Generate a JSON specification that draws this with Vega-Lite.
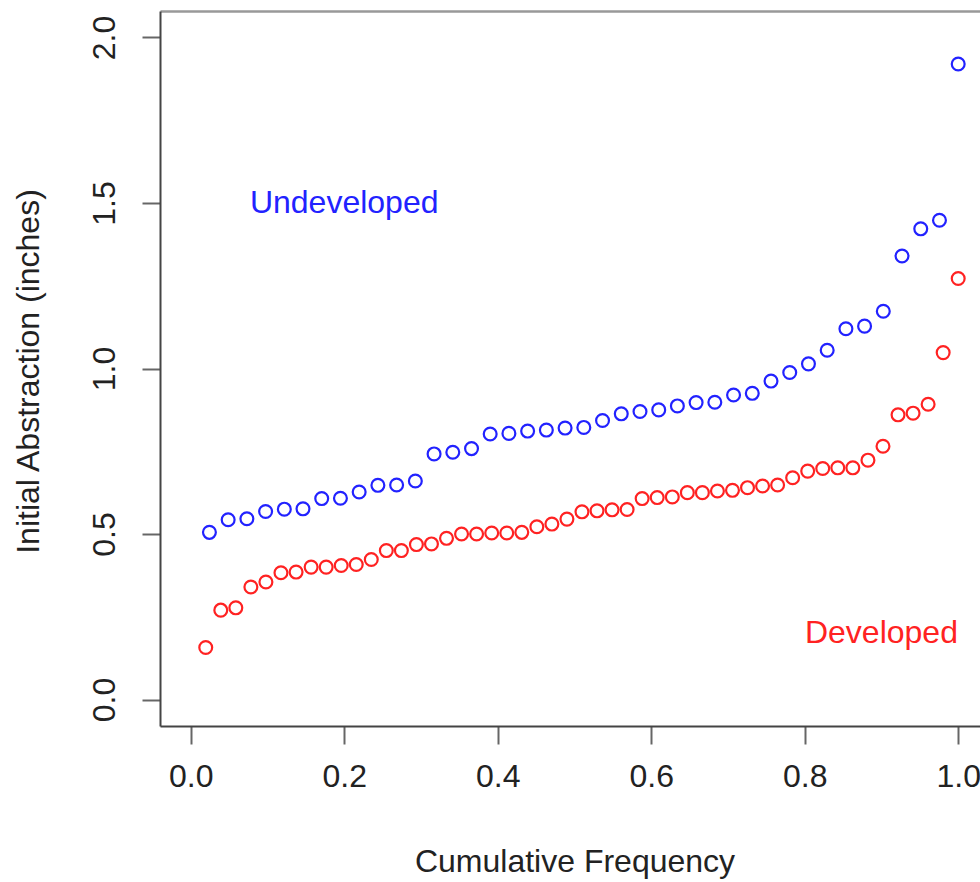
{
  "$schema": "https://vega.github.io/schema/vega-lite/v6.json",
  "width": 820,
  "height": 715,
  "autosize": {"type": "none"},
  "padding": {"left": 160, "top": 11, "right": 0, "bottom": 156},
  "background": "white",
  "config": {
    "view": {"stroke": null},
    "font": "Liberation Sans",
    "axis": {"grid": false, "titleFontWeight": "normal", "labelFont": "Liberation Sans", "titleFont": "Liberation Sans"}
  },
  "datasets": {
    "points": [
      {"landuse": "Undeveloped", "freq": 0.0244, "ia": 0.505},
      {"landuse": "Undeveloped", "freq": 0.0488, "ia": 0.543},
      {"landuse": "Undeveloped", "freq": 0.0732, "ia": 0.546},
      {"landuse": "Undeveloped", "freq": 0.0976, "ia": 0.568},
      {"landuse": "Undeveloped", "freq": 0.1220, "ia": 0.575},
      {"landuse": "Undeveloped", "freq": 0.1463, "ia": 0.576},
      {"landuse": "Undeveloped", "freq": 0.1707, "ia": 0.607},
      {"landuse": "Undeveloped", "freq": 0.1951, "ia": 0.608},
      {"landuse": "Undeveloped", "freq": 0.2195, "ia": 0.627},
      {"landuse": "Undeveloped", "freq": 0.2439, "ia": 0.647},
      {"landuse": "Undeveloped", "freq": 0.2683, "ia": 0.648},
      {"landuse": "Undeveloped", "freq": 0.2927, "ia": 0.660},
      {"landuse": "Undeveloped", "freq": 0.3171, "ia": 0.742},
      {"landuse": "Undeveloped", "freq": 0.3415, "ia": 0.747},
      {"landuse": "Undeveloped", "freq": 0.3659, "ia": 0.758},
      {"landuse": "Undeveloped", "freq": 0.3902, "ia": 0.802},
      {"landuse": "Undeveloped", "freq": 0.4146, "ia": 0.804},
      {"landuse": "Undeveloped", "freq": 0.4390, "ia": 0.811},
      {"landuse": "Undeveloped", "freq": 0.4634, "ia": 0.814},
      {"landuse": "Undeveloped", "freq": 0.4878, "ia": 0.820},
      {"landuse": "Undeveloped", "freq": 0.5122, "ia": 0.822},
      {"landuse": "Undeveloped", "freq": 0.5366, "ia": 0.843},
      {"landuse": "Undeveloped", "freq": 0.5610, "ia": 0.863},
      {"landuse": "Undeveloped", "freq": 0.5854, "ia": 0.870},
      {"landuse": "Undeveloped", "freq": 0.6098, "ia": 0.875},
      {"landuse": "Undeveloped", "freq": 0.6341, "ia": 0.887},
      {"landuse": "Undeveloped", "freq": 0.6585, "ia": 0.897},
      {"landuse": "Undeveloped", "freq": 0.6829, "ia": 0.898},
      {"landuse": "Undeveloped", "freq": 0.7073, "ia": 0.920},
      {"landuse": "Undeveloped", "freq": 0.7317, "ia": 0.925},
      {"landuse": "Undeveloped", "freq": 0.7561, "ia": 0.962},
      {"landuse": "Undeveloped", "freq": 0.7805, "ia": 0.988},
      {"landuse": "Undeveloped", "freq": 0.8049, "ia": 1.014},
      {"landuse": "Undeveloped", "freq": 0.8293, "ia": 1.055},
      {"landuse": "Undeveloped", "freq": 0.8537, "ia": 1.120},
      {"landuse": "Undeveloped", "freq": 0.8780, "ia": 1.128},
      {"landuse": "Undeveloped", "freq": 0.9024, "ia": 1.173},
      {"landuse": "Undeveloped", "freq": 0.9268, "ia": 1.340},
      {"landuse": "Undeveloped", "freq": 0.9512, "ia": 1.422},
      {"landuse": "Undeveloped", "freq": 0.9756, "ia": 1.448},
      {"landuse": "Undeveloped", "freq": 1.0, "ia": 1.920},
      {"landuse": "Developed", "freq": 0.0196, "ia": 0.157},
      {"landuse": "Developed", "freq": 0.0392, "ia": 0.270},
      {"landuse": "Developed", "freq": 0.0588, "ia": 0.277},
      {"landuse": "Developed", "freq": 0.0784, "ia": 0.340},
      {"landuse": "Developed", "freq": 0.0980, "ia": 0.355},
      {"landuse": "Developed", "freq": 0.1176, "ia": 0.383},
      {"landuse": "Developed", "freq": 0.1373, "ia": 0.385},
      {"landuse": "Developed", "freq": 0.1569, "ia": 0.400},
      {"landuse": "Developed", "freq": 0.1765, "ia": 0.400},
      {"landuse": "Developed", "freq": 0.1961, "ia": 0.405},
      {"landuse": "Developed", "freq": 0.2157, "ia": 0.408},
      {"landuse": "Developed", "freq": 0.2353, "ia": 0.423},
      {"landuse": "Developed", "freq": 0.2549, "ia": 0.450},
      {"landuse": "Developed", "freq": 0.2745, "ia": 0.450},
      {"landuse": "Developed", "freq": 0.2941, "ia": 0.468},
      {"landuse": "Developed", "freq": 0.3137, "ia": 0.470},
      {"landuse": "Developed", "freq": 0.3333, "ia": 0.487},
      {"landuse": "Developed", "freq": 0.3529, "ia": 0.500},
      {"landuse": "Developed", "freq": 0.3725, "ia": 0.500},
      {"landuse": "Developed", "freq": 0.3922, "ia": 0.503},
      {"landuse": "Developed", "freq": 0.4118, "ia": 0.503},
      {"landuse": "Developed", "freq": 0.4314, "ia": 0.505},
      {"landuse": "Developed", "freq": 0.4510, "ia": 0.522},
      {"landuse": "Developed", "freq": 0.4706, "ia": 0.530},
      {"landuse": "Developed", "freq": 0.4902, "ia": 0.545},
      {"landuse": "Developed", "freq": 0.5098, "ia": 0.567},
      {"landuse": "Developed", "freq": 0.5294, "ia": 0.570},
      {"landuse": "Developed", "freq": 0.5490, "ia": 0.573},
      {"landuse": "Developed", "freq": 0.5686, "ia": 0.574},
      {"landuse": "Developed", "freq": 0.5882, "ia": 0.607},
      {"landuse": "Developed", "freq": 0.6078, "ia": 0.610},
      {"landuse": "Developed", "freq": 0.6275, "ia": 0.612},
      {"landuse": "Developed", "freq": 0.6471, "ia": 0.625},
      {"landuse": "Developed", "freq": 0.6667, "ia": 0.625},
      {"landuse": "Developed", "freq": 0.6863, "ia": 0.630},
      {"landuse": "Developed", "freq": 0.7059, "ia": 0.632},
      {"landuse": "Developed", "freq": 0.7255, "ia": 0.640},
      {"landuse": "Developed", "freq": 0.7451, "ia": 0.645},
      {"landuse": "Developed", "freq": 0.7647, "ia": 0.648},
      {"landuse": "Developed", "freq": 0.7843, "ia": 0.670},
      {"landuse": "Developed", "freq": 0.8039, "ia": 0.690},
      {"landuse": "Developed", "freq": 0.8235, "ia": 0.698},
      {"landuse": "Developed", "freq": 0.8431, "ia": 0.700},
      {"landuse": "Developed", "freq": 0.8627, "ia": 0.700},
      {"landuse": "Developed", "freq": 0.8824, "ia": 0.723},
      {"landuse": "Developed", "freq": 0.9020, "ia": 0.765},
      {"landuse": "Developed", "freq": 0.9216, "ia": 0.860},
      {"landuse": "Developed", "freq": 0.9412, "ia": 0.865},
      {"landuse": "Developed", "freq": 0.9608, "ia": 0.892},
      {"landuse": "Developed", "freq": 0.9804, "ia": 1.048},
      {"landuse": "Developed", "freq": 1.0, "ia": 1.272}
    ],
    "labels": [
      {"landuse": "Undeveloped", "freq": 0.2, "ia": 1.5},
      {"landuse": "Developed", "freq": 0.9, "ia": 0.2}
    ]
  },
  "layer": [
    {
      "data": {"name": "points"},
      "mark": {"type": "point", "shape": "circle", "filled": false, "size": 165, "strokeWidth": 2.2, "opacity": 1},
      "encoding": {
        "x": {
          "field": "freq", "type": "quantitative",
          "scale": {"domain": [-0.04, 1.0284], "nice": false, "zero": false},
          "axis": {
            "orient": "bottom",
            "values": [0, 0.2, 0.4, 0.6, 0.8, 1.0],
            "format": ".1f",
            "domainColor": "#444", "domainWidth": 2,
            "tickColor": "#666", "tickWidth": 2, "tickSize": 18,
            "labelFontSize": 32, "labelColor": "#222", "labelPadding": 42,
            "labelBaseline": "alphabetic", "labelFlush": false, "labelOverlap": false,
            "title": "Cumulative Frequency",
            "titleFontSize": 32, "titleColor": "#222",
            "titleX": 414.5, "titleY": 145, "titleAlign": "center", "titleBaseline": "alphabetic"
          }
        },
        "y": {
          "field": "ia", "type": "quantitative",
          "scale": {"domain": [-0.08, 2.08], "nice": false, "zero": false},
          "axis": {
            "values": [0, 0.5, 1.0, 1.5, 2.0],
            "format": ".1f",
            "domainColor": "#444", "domainWidth": 2,
            "tickColor": "#666", "tickWidth": 2, "tickSize": 18,
            "labelFontSize": 32, "labelColor": "#222", "labelPadding": 28,
            "labelAngle": 270, "labelAlign": "center", "labelBaseline": "alphabetic",
            "labelFlush": false, "labelOverlap": false,
            "title": "Initial Abstraction (inches)",
            "titleFontSize": 32, "titleColor": "#222",
            "titleAngle": 270, "titleX": -122, "titleY": 360,
            "titleAlign": "center", "titleBaseline": "alphabetic"
          }
        },
        "color": {
          "field": "landuse", "type": "nominal",
          "scale": {"domain": ["Undeveloped", "Developed"], "range": ["#2222ff", "#ff2222"]},
          "legend": null
        }
      }
    },
    {
      "data": {"name": "labels"},
      "mark": {"type": "text", "fontSize": 32, "align": "center", "baseline": "middle", "font": "Liberation Sans"},
      "encoding": {
        "x": {
          "field": "freq", "type": "quantitative",
          "axis": {"orient": "top", "labels": false, "ticks": false, "domain": true, "domainColor": "#999", "domainWidth": 2.5, "title": null}
        },
        "y": {"field": "ia", "type": "quantitative"},
        "text": {"field": "landuse"},
        "color": {"field": "landuse", "type": "nominal", "legend": null}
      }
    }
  ],
  "resolve": {"axis": {"x": "independent"}}
}
